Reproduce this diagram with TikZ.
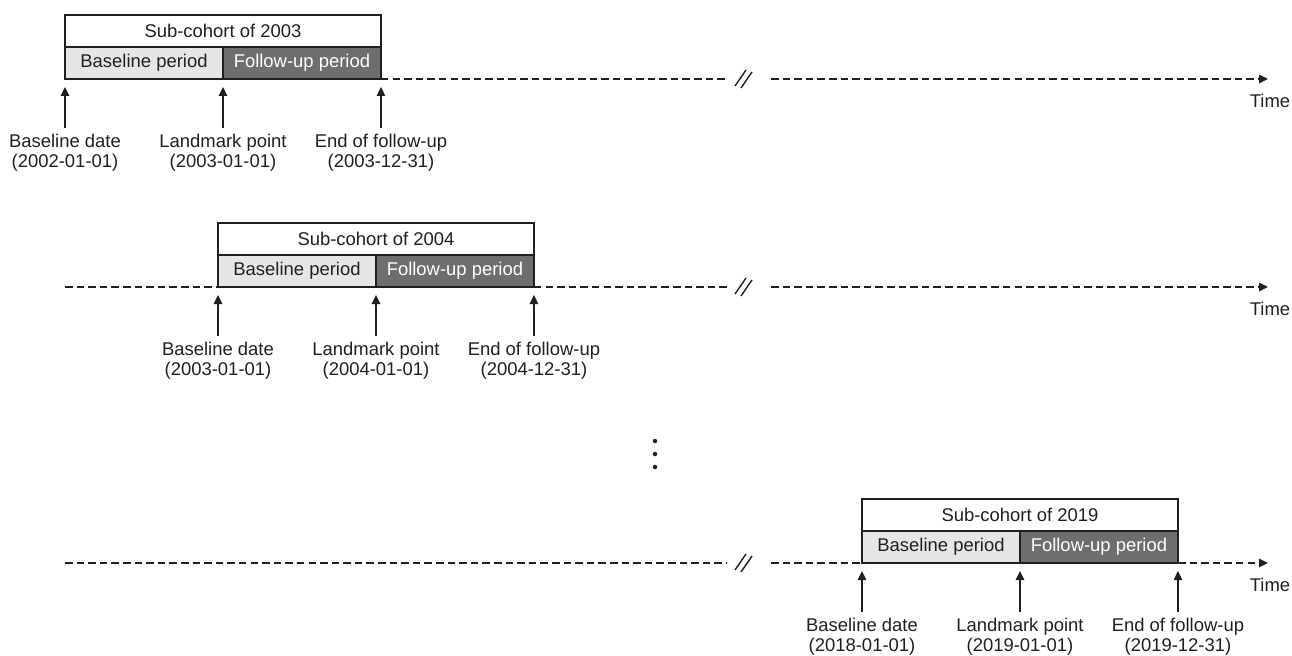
\documentclass[tikz,border=0pt]{standalone}
\usepackage{fontspec}
\setmainfont{Liberation Sans}
\usetikzlibrary{arrows.meta}

\definecolor{ink}{RGB}{35,31,32}
\definecolor{basegray}{RGB}{230,230,230}
\definecolor{followgray}{RGB}{110,110,110}

\tikzset{
  cell/.style={draw=ink, line width=0.8pt, minimum height=0.64cm, inner sep=0pt, outer sep=0pt, text=ink, font=\fontsize{10.5}{11}\selectfont},
  titlebox/.style={cell, fill=white, minimum width=6.32cm},
  basebox/.style={cell, fill=basegray, minimum width=3.16cm},
  followbox/.style={cell, fill=followgray, text=white, minimum width=3.16cm},
  timeline/.style={draw=ink, line width=0.7pt, dash pattern=on 4.3pt off 2.3pt},
  lbl/.style={align=center, inner xsep=1pt, inner ysep=3.5pt, text=ink, font=\fontsize{10.5}{11.1}\selectfont},
  tick/.style={draw=ink, line width=0.7pt, -{Triangle[length=0.18cm, width=0.17cm]}, shorten >=0.16cm},
  tip/.style={-{Triangle[length=0.18cm, width=0.17cm]}}
}
\newcommand{\breakmark}[1]{%
  \draw[ink, line width=0.8pt] (735,#1+7) -- (746,#1-9);
  \draw[ink, line width=0.8pt] (741,#1+9) -- (752,#1-7);}

\begin{document}
\begin{tikzpicture}[x=0.02cm, y=-0.02cm]
    \useasboundingbox (0,0) rectangle (1292,656);

    % Sub-cohort of 2003
    \node[basebox, anchor=south west] (b1) at (65,79) {Baseline period};
    \node[followbox, anchor=west] (f1) at (b1.east) {Follow-up period};
    \node[titlebox, anchor=south west] (t1) at (b1.north west) {Sub-cohort of 2003};
    \coordinate (g1a) at (727,79);
    \coordinate (g1b) at (771,79);
    \coordinate (e1) at (1268,79);
    \draw[timeline] (f1.south east) -- (g1a);
    \draw[timeline, tip] (g1b) -- (e1);
    \breakmark{79}
    \node[text=ink, font=\fontsize{10.5}{11}\selectfont] (time1) at (1270,101) {Time};
    \node[lbl, anchor=north] (bd1) at (b1.south west |- 0,128) {Baseline date\\(2002-01-01)};
    \node[lbl, anchor=north] (lm1) at (b1.south east |- 0,128) {Landmark point\\(2003-01-01)};
    \node[lbl, anchor=north] (ef1) at (f1.south east |- 0,128) {End of follow-up\\(2003-12-31)};
    \draw[tick] (bd1.north) -- (b1.south west);
    \draw[tick] (lm1.north) -- (b1.south east);
    \draw[tick] (ef1.north) -- (f1.south east);

    % Sub-cohort of 2004
    \node[basebox, anchor=south west] (b2) at (218,287) {Baseline period};
    \node[followbox, anchor=west] (f2) at (b2.east) {Follow-up period};
    \node[titlebox, anchor=south west] (t2) at (b2.north west) {Sub-cohort of 2004};
    \coordinate (s2) at (65,287);
    \coordinate (g2a) at (727,287);
    \coordinate (g2b) at (771,287);
    \coordinate (e2) at (1268,287);
    \draw[timeline] (s2) -- (b2.south west);
    \draw[timeline] (f2.south east) -- (g2a);
    \draw[timeline, tip] (g2b) -- (e2);
    \breakmark{287}
    \node[text=ink, font=\fontsize{10.5}{11}\selectfont] (time2) at (1270,309) {Time};
    \node[lbl, anchor=north] (bd2) at (b2.south west |- 0,336) {Baseline date\\(2003-01-01)};
    \node[lbl, anchor=north] (lm2) at (b2.south east |- 0,336) {Landmark point\\(2004-01-01)};
    \node[lbl, anchor=north] (ef2) at (f2.south east |- 0,336) {End of follow-up\\(2004-12-31)};
    \draw[tick] (bd2.north) -- (b2.south west);
    \draw[tick] (lm2.north) -- (b2.south east);
    \draw[tick] (ef2.north) -- (f2.south east);

    % Dots
    \fill[ink] (655,441) circle (0.045cm);
    \fill[ink] (655,454) circle (0.045cm);
    \fill[ink] (655,467) circle (0.045cm);

    % Sub-cohort of 2019
    \node[basebox, anchor=south west] (b3) at (862,563) {Baseline period};
    \node[followbox, anchor=west] (f3) at (b3.east) {Follow-up period};
    \node[titlebox, anchor=south west] (t3) at (b3.north west) {Sub-cohort of 2019};
    \coordinate (s3) at (65,563);
    \coordinate (g3a) at (727,563);
    \coordinate (g3b) at (771,563);
    \coordinate (e3) at (1268,563);
    \draw[timeline] (s3) -- (g3a);
    \draw[timeline] (g3b) -- (b3.south west);
    \draw[timeline, tip] (f3.south east) -- (e3);
    \breakmark{563}
    \node[text=ink, font=\fontsize{10.5}{11}\selectfont] (time3) at (1270,585) {Time};
    \node[lbl, anchor=north] (bd3) at (b3.south west |- 0,612) {Baseline date\\(2018-01-01)};
    \node[lbl, anchor=north] (lm3) at (b3.south east |- 0,612) {Landmark point\\(2019-01-01)};
    \node[lbl, anchor=north] (ef3) at (f3.south east |- 0,612) {End of follow-up\\(2019-12-31)};
    \draw[tick] (bd3.north) -- (b3.south west);
    \draw[tick] (lm3.north) -- (b3.south east);
    \draw[tick] (ef3.north) -- (f3.south east);
\end{tikzpicture}
\end{document}
